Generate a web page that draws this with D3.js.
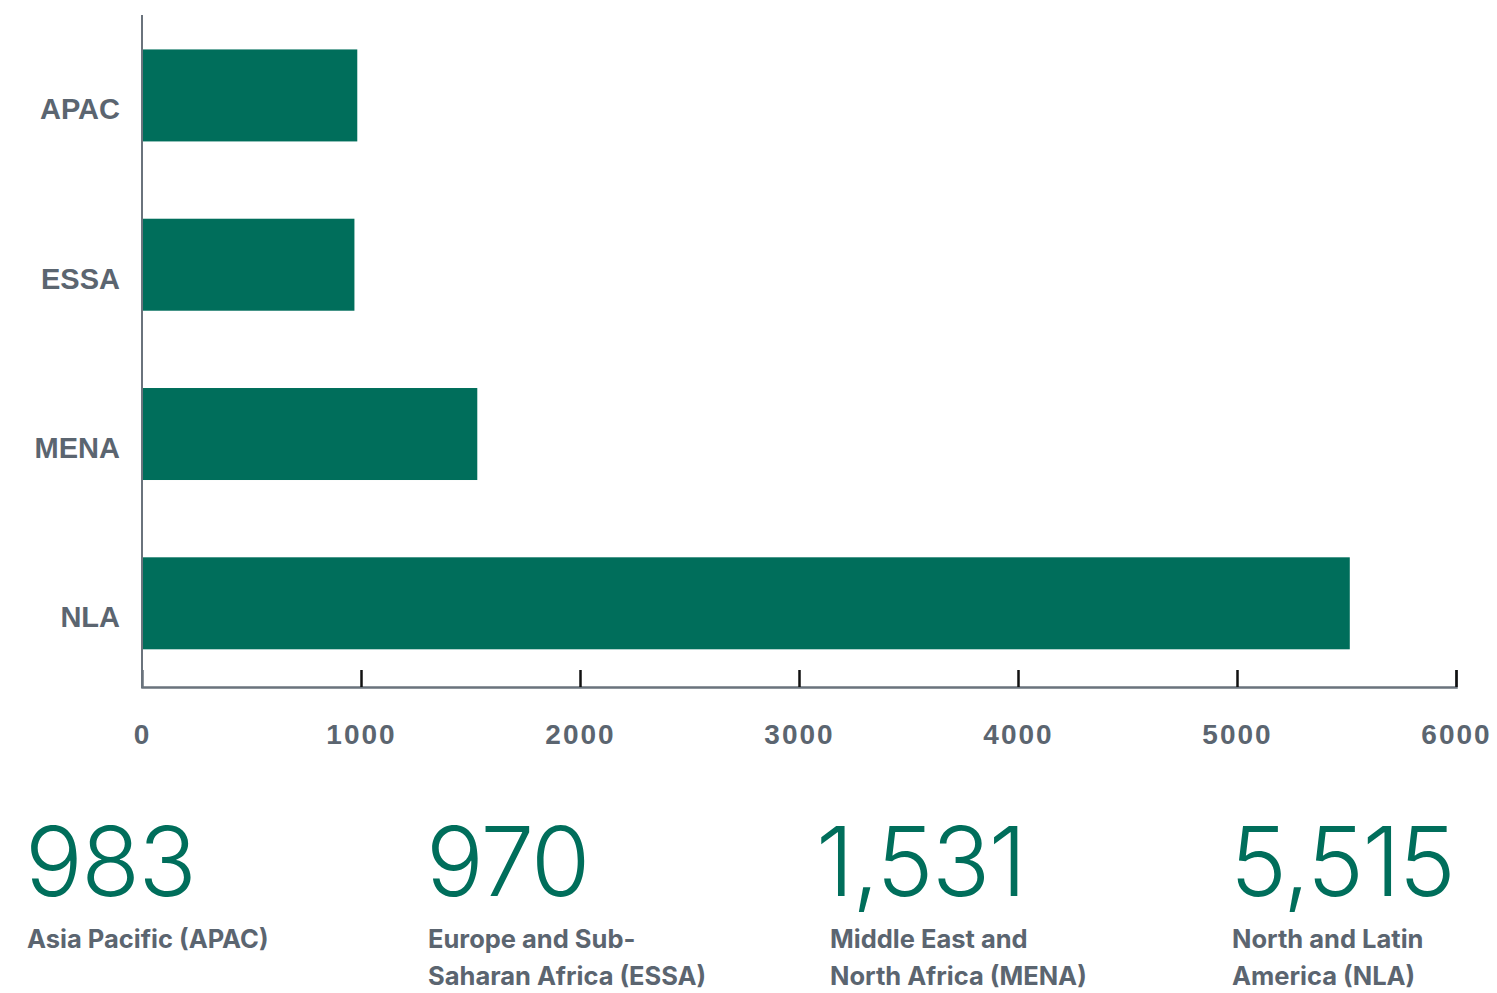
<!DOCTYPE html>
<html>
<head>
<meta charset="utf-8">
<script src="https://cdn.jsdelivr.net/npm/d3@7"></script>
<style>
  body { margin: 0; background: #fff; }
  svg { display: block; }
</style>
</head>
<body>
<div id="chart"></div>
<script>
// regions, values and the long names shown in the summary row
const regions = ["APAC", "ESSA", "MENA", "NLA"];
const values = [983, 970, 1531, 5515];
const valueLabels = ["983", "970", "1,531", "5,515"];
const longNames = [
    ["Asia Pacific (APAC)"],
    ["Europe and Sub-", "Saharan Africa (ESSA)"],
    ["Middle East and", "North Africa (MENA)"],
    ["North and Latin", "America (NLA)"],
];
const xTicks = [0, 1000, 2000, 3000, 4000, 5000, 6000];

const width = 1497, height = 993;
const green = "#006e5b";
const grey = "#5b6570";
const axisGrey = "#6a737c";
const font = "Inter, 'Open Sans', sans-serif";
const axisFont = "'Liberation Sans', Arial, sans-serif";

const svg = d3.select("#chart").append("svg")
    .attr("width", width)
    .attr("height", height);

const x = d3.scaleLinear().domain([0, 6000]).range([142, 1456]);
const y = d3.scaleBand().domain(regions).range([10, 687]).paddingInner(0.455).paddingOuter(0.227);

// bars
svg.append("g")
    .selectAll("rect")
    .data(regions)
    .join("rect")
    .attr("x", x(0))
    .attr("y", d => y(d) + 1)
    .attr("width", (d, i) => x(values[i]) - x(0))
    .attr("height", 92)
    .attr("fill", green);

// y axis line
svg.append("line")
    .attr("x1", x(0)).attr("x2", x(0))
    .attr("y1", 15).attr("y2", 688)
    .attr("stroke", axisGrey).attr("stroke-width", 2);

// y labels (sit a little below the bar centre, as in the original)
svg.append("g")
    .selectAll("text")
    .data(regions)
    .join("text")
    .attr("x", 120)
    .attr("y", d => y(d) + 71)
    .attr("text-anchor", "end")
    .attr("font-family", axisFont)
    .attr("font-weight", 700)
    .attr("font-size", 29)
    .attr("fill", grey)
    .text(d => d);

// x axis (ticks point up)
const xAxis = d3.axisBottom(x)
    .tickValues(xTicks)
    .tickSize(-17)
    .tickPadding(37)
    .tickFormat(d3.format("d"));

const ax = svg.append("g")
    .attr("transform", "translate(0,687)")
    .call(xAxis);
ax.select(".domain").attr("stroke", axisGrey).attr("stroke-width", 2.5);
ax.selectAll(".tick line").attr("stroke", "#111").attr("stroke-width", 2.5)
    .filter(d => d === 0).remove();
ax.selectAll(".tick text")
    .attr("font-family", axisFont)
    .attr("font-weight", 700)
    .attr("font-size", 28)
    .attr("letter-spacing", 2)
    .attr("fill", grey);

// summary row
const cols = [25, 426, 816, 1230];
const labelOffsets = [2, 2, 14, 2];
const summary = svg.append("g")
    .selectAll("g")
    .data(regions)
    .join("g")
    .attr("transform", (d, i) => `translate(${cols[i]},0)`);

summary.append("text")
    .attr("y", 896)
    .attr("font-family", font)
    .attr("font-weight", 300)
    .attr("font-size", 96)
    .attr("fill", green)
    .attr("letter-spacing", -1.5)
    .text((d, i) => valueLabels[i]);

summary.each(function (d, i) {
    const g = d3.select(this);
    longNames[i].forEach((line, j) => {
        g.append("text")
            .attr("x", labelOffsets[i])
            .attr("y", 948 + j * 37)
            .attr("font-family", font)
            .attr("font-weight", 700)
            .attr("font-size", 25.5)
            .attr("fill", grey)
            .text(line);
    });
});
</script>
</body>
</html>
